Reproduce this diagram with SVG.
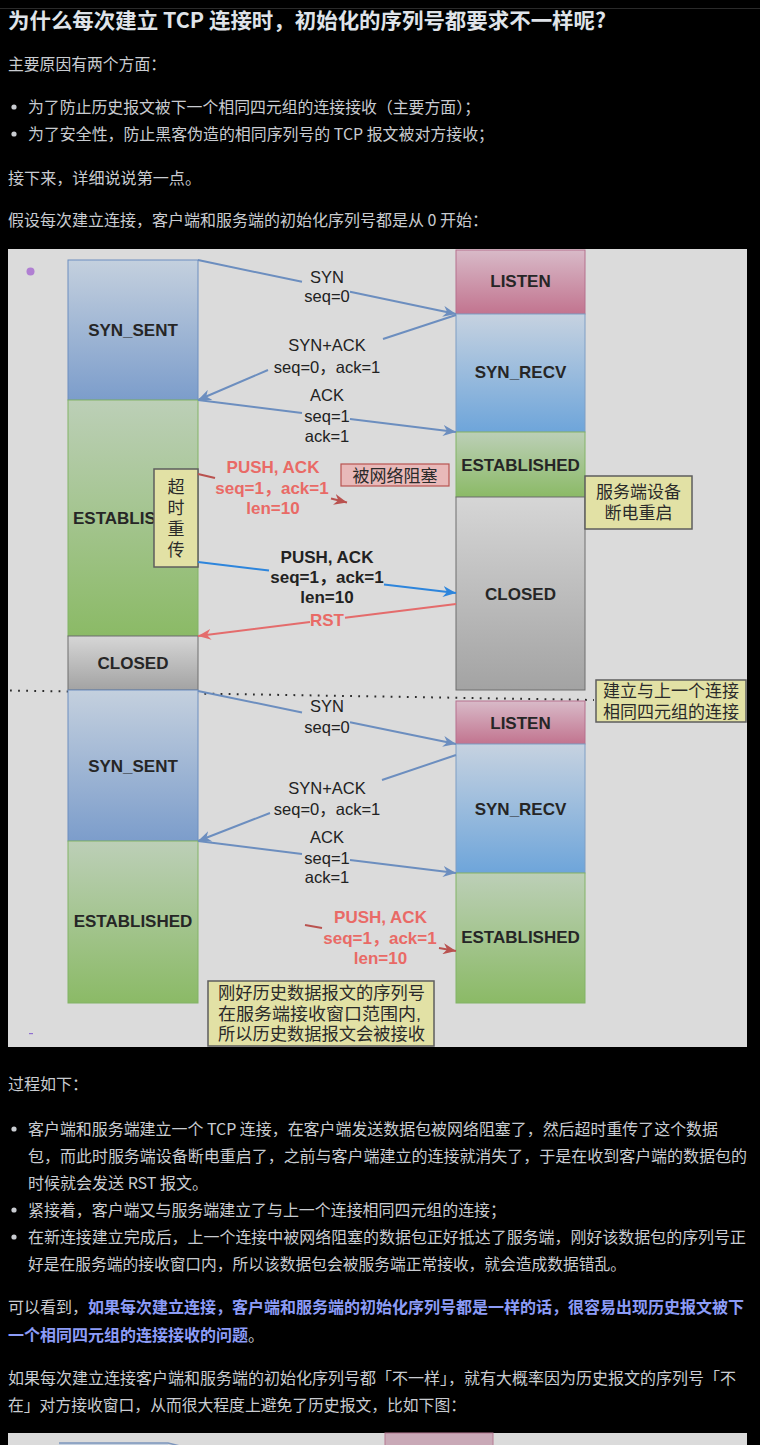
<svg xmlns="http://www.w3.org/2000/svg" width="760" height="1445" viewBox="0 0 760 1445">
<defs>
<style>
.body{font-family:"Noto Sans CJK SC","Noto Sans",sans-serif;font-size:16px;fill:#c9ccd1}
.title{font-family:"Noto Sans CJK SC","Noto Sans",sans-serif;font-size:21px;font-weight:700;fill:#dfe3e8}
.em{font-family:"Noto Sans CJK SC","Noto Sans",sans-serif;font-size:16px;font-weight:700;fill:#8c9cf7}
.st{font-family:"Liberation Sans",Arial,sans-serif;font-size:17px;font-weight:700;fill:#262626;text-anchor:middle}
.lb{font-family:"Liberation Sans",Arial,"Noto Sans CJK SC",sans-serif;font-size:16.5px;fill:#222;text-anchor:middle}
.lr{font-family:"Liberation Sans",Arial,"Noto Sans CJK SC",sans-serif;font-size:17px;font-weight:700;fill:#e96a66;text-anchor:middle}
.lk{font-family:"Liberation Sans",Arial,"Noto Sans CJK SC",sans-serif;font-size:17px;font-weight:700;fill:#222;text-anchor:middle}
.note{font-family:"Liberation Sans","Noto Sans CJK SC",sans-serif;font-size:17px;fill:#2a2a2a;text-anchor:middle}
.noteL{font-family:"Liberation Sans","Noto Sans CJK SC",sans-serif;font-size:17px;fill:#2a2a2a}
.cb{fill:none;stroke:#6c8ebf;stroke-width:2}
.cB{fill:none;stroke:#2d85dc;stroke-width:2}
.cR{fill:none;stroke:#e46c6c;stroke-width:2}
.cD{fill:none;stroke:#b9524f;stroke-width:2}
.yel{fill:#e2e1a5;stroke:#5e5e5e;stroke-width:1.5}
.dot{fill:#c9ccd1}
</style>
<linearGradient id="gSent" x1="0" y1="0" x2="0" y2="1"><stop offset="0" stop-color="#c4d0de"/><stop offset="1" stop-color="#7c9dcb"/></linearGradient>
<linearGradient id="gEst" x1="0" y1="0" x2="0" y2="1"><stop offset="0" stop-color="#bccfb7"/><stop offset="1" stop-color="#8bba66"/></linearGradient>
<linearGradient id="gClosed" x1="0" y1="0" x2="0" y2="1"><stop offset="0" stop-color="#d6d6d6"/><stop offset="1" stop-color="#a3a3a3"/></linearGradient>
<linearGradient id="gListen" x1="0" y1="0" x2="0" y2="1"><stop offset="0" stop-color="#d8bac8"/><stop offset="1" stop-color="#c2748f"/></linearGradient>
<linearGradient id="gRecv" x1="0" y1="0" x2="0" y2="1"><stop offset="0" stop-color="#c6d2e0"/><stop offset="1" stop-color="#6ea5da"/></linearGradient>
<marker id="aBlue" markerUnits="userSpaceOnUse" markerWidth="14" markerHeight="11" refX="13" refY="5.5" orient="auto"><path d="M0,0 L13,5.5 L0,11 L4,5.5 z" fill="#6c8ebf"/></marker>
<marker id="aBright" markerUnits="userSpaceOnUse" markerWidth="14" markerHeight="11" refX="13" refY="5.5" orient="auto"><path d="M0,0 L13,5.5 L0,11 L4,5.5 z" fill="#2d85dc"/></marker>
<marker id="aRed" markerUnits="userSpaceOnUse" markerWidth="14" markerHeight="11" refX="13" refY="5.5" orient="auto"><path d="M0,0 L13,5.5 L0,11 L4,5.5 z" fill="#e46c6c"/></marker>
<marker id="aDark" markerUnits="userSpaceOnUse" markerWidth="14" markerHeight="11" refX="13" refY="5.5" orient="auto"><path d="M0,0 L13,5.5 L0,11 L4,5.5 z" fill="#b9524f"/></marker>
</defs>

<rect x="0" y="0" width="760" height="1445" fill="#000"/>
<line x1="0" y1="8.5" x2="760" y2="8.5" stroke="#2a2a2a" stroke-width="1"/>

<g id="text-top">
<text class="title" x="8" y="28" textLength="598" lengthAdjust="spacingAndGlyphs">为什么每次建立 TCP 连接时，初始化的序列号都要求不一样呢?</text>
<text class="body" x="8" y="69.5" textLength="158" lengthAdjust="spacingAndGlyphs">主要原因有两个方面：</text>
<circle class="dot" cx="14" cy="107" r="2.6"/>
<text class="body" x="28" y="113" textLength="452" lengthAdjust="spacingAndGlyphs">为了防止历史报文被下一个相同四元组的连接接收（主要方面）；</text>
<circle class="dot" cx="14" cy="134" r="2.6"/>
<text class="body" x="28" y="140" textLength="466" lengthAdjust="spacingAndGlyphs">为了安全性，防止黑客伪造的相同序列号的 TCP 报文被对方接收；</text>
<text class="body" x="8" y="183.5" textLength="193" lengthAdjust="spacingAndGlyphs">接下来，详细说说第一点。</text>
<text class="body" x="8" y="225.5" textLength="480" lengthAdjust="spacingAndGlyphs">假设每次建立连接，客户端和服务端的初始化序列号都是从 0 开始：</text>
</g>

<g id="diagram-bg">
<rect x="8" y="249" width="739" height="798" fill="#dbdbdb"/>
<circle cx="30.5" cy="271.5" r="4" fill="#b07fd2"/>
<rect x="29" y="1033" width="4" height="1.2" fill="#8f6fd0"/>
<line x1="10" y1="690.5" x2="594" y2="700" stroke="#2b2b2b" stroke-width="2" stroke-dasharray="1.8 6.3"/>
</g>

<g id="client-syn-sent-1"><rect x="68" y="260" width="130" height="140" fill="url(#gSent)" stroke="#6c8ebf"/><text class="st" x="133" y="335.5">SYN_SENT</text></g>
<g id="client-established-1"><rect x="68" y="400" width="130" height="236" fill="url(#gEst)" stroke="#82b366"/><text class="st" x="73" y="524" style="text-anchor:start">ESTABLIS</text></g>
<g id="client-closed"><rect x="68" y="636" width="130" height="54" fill="url(#gClosed)" stroke="#6e6e6e"/><text class="st" x="133" y="669">CLOSED</text></g>
<g id="client-syn-sent-2"><rect x="68" y="690" width="130" height="151" fill="url(#gSent)" stroke="#6c8ebf"/><text class="st" x="133" y="772">SYN_SENT</text></g>
<g id="client-established-2"><rect x="68" y="841" width="130" height="162" fill="url(#gEst)" stroke="#82b366"/><text class="st" x="133" y="927">ESTABLISHED</text></g>

<g id="server-listen-1"><rect x="456" y="250" width="129" height="64" fill="url(#gListen)" stroke="#b5708d"/><text class="st" x="520.5" y="287">LISTEN</text></g>
<g id="server-syn-recv-1"><rect x="456" y="314" width="129" height="118" fill="url(#gRecv)" stroke="#7e9ec4"/><text class="st" x="520.5" y="378">SYN_RECV</text></g>
<g id="server-established-1"><rect x="456" y="432" width="129" height="65" fill="url(#gEst)" stroke="#82b366"/><text class="st" x="520.5" y="470.5">ESTABLISHED</text></g>
<g id="server-closed"><rect x="456" y="497" width="129" height="193" fill="url(#gClosed)" stroke="#6e6e6e"/><text class="st" x="520.5" y="600">CLOSED</text></g>
<g id="server-listen-2"><rect x="456" y="701" width="129" height="43" fill="url(#gListen)" stroke="#b5708d"/><text class="st" x="520.5" y="729">LISTEN</text></g>
<g id="server-syn-recv-2"><rect x="456" y="744" width="129" height="129" fill="url(#gRecv)" stroke="#7e9ec4"/><text class="st" x="520.5" y="815">SYN_RECV</text></g>
<g id="server-established-2"><rect x="456" y="873" width="129" height="130" fill="url(#gEst)" stroke="#82b366"/><text class="st" x="520.5" y="943">ESTABLISHED</text></g>

<g id="note-retransmit"><rect class="yel" x="154" y="469" width="44" height="98"/>
<text class="note" x="176" y="493">超</text><text class="note" x="176" y="514">时</text><text class="note" x="176" y="535">重</text><text class="note" x="176" y="556">传</text></g>
<g id="note-blocked"><rect x="341" y="464" width="108" height="22" fill="#e8b9b9" stroke="#b85450" stroke-width="1.2"/><text class="note" x="395" y="481.5">被网络阻塞</text></g>
<g id="note-reboot"><rect class="yel" x="585" y="476" width="107" height="53"/><text class="note" x="638.5" y="497.5">服务端设备</text><text class="note" x="638.5" y="518.5">断电重启</text></g>
<g id="note-same-tuple"><rect class="yel" x="596" y="680" width="150" height="42"/><text class="note" x="671" y="696.5">建立与上一个连接</text><text class="note" x="671" y="718">相同四元组的连接</text></g>
<g id="note-accepted"><rect class="yel" x="208" y="981" width="226" height="65"/>
<text class="noteL" x="218" y="998.5" textLength="207" lengthAdjust="spacingAndGlyphs">刚好历史数据报文的序列号</text>
<text class="noteL" x="218" y="1020" textLength="203" lengthAdjust="spacingAndGlyphs">在服务端接收窗口范围内,</text>
<text class="noteL" x="218" y="1040" textLength="207" lengthAdjust="spacingAndGlyphs">所以历史数据报文会被接收</text></g>

<g id="connectors">
<path class="cb" d="M198,260 L302,281.8 M350,291.8 L456,314" marker-end="url(#aBlue)"/>
<path class="cb" d="M456,315 L383,339 M268,370 L198,400" marker-end="url(#aBlue)"/>
<path class="cb" d="M198,400 L302,413 M350,419 L456,432" marker-end="url(#aBlue)"/>
<path class="cD" d="M198,474 L215,478"/>
<path class="cD" d="M331,498.5 L347,502.5" marker-end="url(#aDark)"/>
<path class="cB" d="M198,562 L269,570.5 M384,584.4 L456,593" marker-end="url(#aBright)"/>
<path class="cR" d="M456,604 L345,617.8 M310,622.1 L198,636" marker-end="url(#aRed)"/>
<path class="cb" d="M198,691 L302,712.4 M350,722.3 L456,744" marker-end="url(#aBlue)"/>
<path class="cb" d="M456,755 L382,780 M270,813 L198,841" marker-end="url(#aBlue)"/>
<path class="cb" d="M198,841 L302,854 M350,860 L456,873" marker-end="url(#aBlue)"/>
<path class="cD" d="M305,925 L322,928"/>
<path class="cD" d="M439,948 L456,951" marker-end="url(#aDark)"/>
</g>

<g id="connector-labels">
<text class="lb" x="327" y="282.5">SYN</text>
<text class="lb" x="327" y="302">seq=0</text>
<text class="lb" x="327" y="351">SYN+ACK</text>
<text class="lb" x="327" y="372.5">seq=0，ack=1</text>
<text class="lb" x="327" y="401">ACK</text>
<text class="lb" x="327" y="421.5">seq=1</text>
<text class="lb" x="327" y="442">ack=1</text>
<text class="lr" x="273" y="473">PUSH, ACK</text>
<text class="lr" x="272" y="494">seq=1，ack=1</text>
<text class="lr" x="273" y="514">len=10</text>
<text class="lk" x="327" y="563">PUSH, ACK</text>
<text class="lk" x="327" y="583">seq=1，ack=1</text>
<text class="lk" x="327" y="603">len=10</text>
<text class="lr" x="327" y="625.5">RST</text>
<text class="lb" x="327" y="711.5">SYN</text>
<text class="lb" x="327" y="733">seq=0</text>
<text class="lb" x="327" y="794">SYN+ACK</text>
<text class="lb" x="327" y="815">seq=0，ack=1</text>
<text class="lb" x="327" y="842.5">ACK</text>
<text class="lb" x="327" y="864">seq=1</text>
<text class="lb" x="327" y="883">ack=1</text>
<text class="lr" x="380.5" y="923">PUSH, ACK</text>
<text class="lr" x="380" y="944">seq=1，ack=1</text>
<text class="lr" x="380.5" y="964">len=10</text>
</g>

<g id="text-bottom">
<text class="body" x="8" y="1090" textLength="80" lengthAdjust="spacingAndGlyphs">过程如下：</text>
<circle class="dot" cx="14" cy="1129" r="2.6"/>
<text class="body" x="28" y="1135" textLength="690" lengthAdjust="spacingAndGlyphs">客户端和服务端建立一个 TCP 连接，在客户端发送数据包被网络阻塞了，然后超时重传了这个数据</text>
<text class="body" x="28" y="1162" textLength="719" lengthAdjust="spacingAndGlyphs">包，而此时服务端设备断电重启了，之前与客户端建立的连接就消失了，于是在收到客户端的数据包的</text>
<text class="body" x="28" y="1189" textLength="180" lengthAdjust="spacingAndGlyphs">时候就会发送 RST 报文。</text>
<circle class="dot" cx="14" cy="1210" r="2.6"/>
<text class="body" x="28" y="1216" textLength="478" lengthAdjust="spacingAndGlyphs">紧接着，客户端又与服务端建立了与上一个连接相同四元组的连接；</text>
<circle class="dot" cx="14" cy="1237" r="2.6"/>
<text class="body" x="28" y="1243" textLength="718" lengthAdjust="spacingAndGlyphs">在新连接建立完成后，上一个连接中被网络阻塞的数据包正好抵达了服务端，刚好该数据包的序列号正</text>
<text class="body" x="28" y="1270" textLength="598" lengthAdjust="spacingAndGlyphs">好是在服务端的接收窗口内，所以该数据包会被服务端正常接收，就会造成数据错乱。</text>
<text class="body" x="8" y="1313" textLength="80" lengthAdjust="spacingAndGlyphs">可以看到，</text>
<text class="em" x="88" y="1313" textLength="656" lengthAdjust="spacingAndGlyphs">如果每次建立连接，客户端和服务端的初始化序列号都是一样的话，很容易出现历史报文被下</text>
<text class="em" x="8" y="1341" textLength="240" lengthAdjust="spacingAndGlyphs">一个相同四元组的连接接收的问题</text>
<text class="body" x="248" y="1341">。</text>
<text class="body" x="8" y="1384" textLength="728" lengthAdjust="spacingAndGlyphs">如果每次建立连接客户端和服务端的初始化序列号都「不一样」，就有大概率因为历史报文的序列号「不</text>
<text class="body" x="8" y="1411" textLength="458" lengthAdjust="spacingAndGlyphs">在」对方接收窗口，从而很大程度上避免了历史报文，比如下图：</text>
</g>

<g id="next-figure">
<rect x="8" y="1433" width="739" height="12" fill="#dbdbdb"/>
<rect x="385" y="1433" width="108" height="14" fill="#c9a9b7" stroke="#b57a92"/>
<rect x="59" y="1443" width="109" height="4" fill="#c6d1df"/>
<path d="M59,1443 L168,1443 L184,1447" fill="none" stroke="#7d96bd" stroke-width="1.5"/>
</g>
</svg>
